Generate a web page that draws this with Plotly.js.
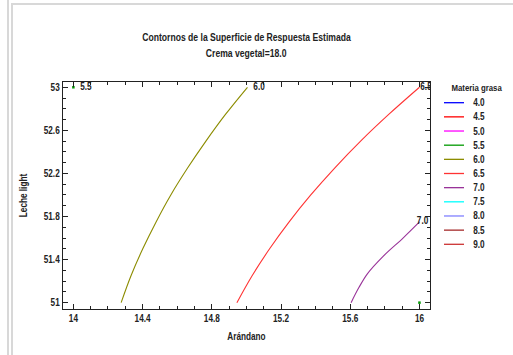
<!DOCTYPE html>
<html>
<head>
<meta charset="utf-8">
<script src="https://cdn.plot.ly/plotly-3.0.1.min.js"></script>
<style>
  html, body { margin: 0; padding: 0; background: #fff; }
  body { width: 513px; height: 355px; position: relative; overflow: hidden; }
  #frameA { position: absolute; left: 7px; top: 0; width: 2px; height: 355px; background: #d8d8d8; }
  #frameB { position: absolute; left: 11px; top: 3px; right: -2px; bottom: -2px; border-left: 2px solid #d8d8d8; border-top: 2px solid #d8d8d8; }
  #chart { position: absolute; left: 0; top: 0; width: 513px; height: 355px; }
</style>
</head>
<body>
<div id="frameA"></div>
<div id="frameB"></div>
<div id="chart"></div>
<script>
// Legend levels (Materia grasa) and their colours
const levels = ['4.0', '4.5', '5.0', '5.5', '6.0', '6.5', '7.0', '7.5', '8.0', '8.5', '9.0'];
const levelColors = ['#0000FF', '#FF0000', '#FF00FF', '#009900', '#8C8C00', '#FF3333', '#993399', '#00FFFF', '#8080FF', '#A52A2A', '#CC3333'];

// Contour lines (x = Arándano, y = Leche light)
const contour55x = [14.0, null, 16.0];
const contour55y = [53.0, null, 51.0];
const contour60x = [14.276, 14.333, 14.401, 14.478, 14.563, 14.660, 14.766, 14.880, 15.006];
const contour60y = [51.0, 51.25, 51.5, 51.75, 52.0, 52.25, 52.5, 52.75, 53.0];
const contour65x = [14.945, 15.033, 15.134, 15.247, 15.372, 15.510, 15.660, 15.824, 16.0];
const contour65y = [51.0, 51.25, 51.5, 51.75, 52.0, 52.25, 52.5, 52.75, 53.0];
const contour70x = [15.605, 15.650, 15.700, 15.790, 15.905, 16.0];
const contour70y = [51.0, 51.14, 51.27, 51.43, 51.60, 51.75];

// Contour labels (anchor positions of the level labels)
const labelText = ['5.5', '6.0', '6.5', '7.0'];
const labelX = [14.039, 15.04, 16.005, 15.985];
const labelY = [53.0, 53.0, 53.0, 51.75];

const FONT = '"Liberation Sans", Arial, sans-serif';
const INK = '#222';
const colorOf = lv => levelColors[levels.indexOf(lv)];
const f = (size) => ({ family: FONT, size: size, color: INK, weight: 'bold' });

const lineTrace = (xs, ys, lv) => ({ x: xs, y: ys, mode: 'lines', type: 'scatter', showlegend: false,
  line: { color: colorOf(lv), width: 1.1, shape: 'spline', smoothing: 1 } });

const traces = [
  { x: contour55x, y: contour55y, mode: 'markers', type: 'scatter', showlegend: false,
    marker: { color: colorOf('5.5'), size: 2.5, symbol: 'square' } },
  lineTrace(contour60x, contour60y, '6.0'),
  lineTrace(contour65x, contour65y, '6.5'),
  lineTrace(contour70x, contour70y, '7.0'),
  { x: labelX, y: labelY, text: labelText, mode: 'text', type: 'scatter', showlegend: false,
    textposition: 'middle right', cliponaxis: true, textfont: f(10) }
];

// Manual legend built from the level arrays (paper coordinates)
const L = 63, R = 430, T = 82, B = 309;
const px = v => (v - L) / (R - L);
const py = v => (B - v) / (B - T);
const shapes = [];
const annotations = [];
levels.forEach((lv, i) => {
  const yy = 102.7 + i * 14.16;
  shapes.push({ type: 'line', xref: 'paper', yref: 'paper', x0: px(444), x1: px(464), y0: py(yy), y1: py(yy),
    line: { color: levelColors[i], width: 1.3 } });
  annotations.push({ xref: 'paper', yref: 'paper', x: px(470), y: py(yy), xanchor: 'left', yanchor: 'middle',
    text: lv, showarrow: false, font: f(10) });
});
annotations.push({ xref: 'paper', yref: 'paper', x: px(477), y: py(87.5), xanchor: 'center', yanchor: 'middle',
  text: 'Materia grasa', showarrow: false, font: f(9.5) });
// second title line
annotations.push({ xref: 'paper', yref: 'paper', x: 0.5, y: py(53), xanchor: 'center', yanchor: 'middle',
  text: 'Crema vegetal=18.0', showarrow: false, font: f(10.5) });

const axisCommon = {
  showgrid: false, zeroline: false, showline: true, linecolor: INK, linewidth: 1.3, mirror: 'ticks',
  ticks: 'inside', ticklen: 5, tickwidth: 1, tickcolor: INK,
  tickfont: f(10),
  minor: { ticks: 'inside', ticklen: 3, tickcolor: INK, dtick: 0.1 }
};

const layout = {
  width: 513, height: 355,
  margin: { l: 63, r: 83, t: 82, b: 46 },
  paper_bgcolor: 'rgba(0,0,0,0)', plot_bgcolor: '#fff',
  showlegend: false,
  title: { text: 'Contornos de la Superficie de Respuesta Estimada',
    x: 0.5, xref: 'paper', xanchor: 'center', y: 1 - 37 / 355, yref: 'container', yanchor: 'middle',
    font: f(10.5) },
  xaxis: Object.assign({}, axisCommon, {
    range: [13.94, 16.061], tickvals: [14, 14.4, 14.8, 15.2, 15.6, 16], ticktext: ['14', '14.4', '14.8', '15.2', '15.6', '16'],
    title: { text: 'Arándano', standoff: 9, font: f(10) }
  }),
  yaxis: Object.assign({}, axisCommon, {
    range: [50.941, 53.049], tickvals: [51, 51.4, 51.8, 52.2, 52.6, 53], ticktext: ['51', '51.4', '51.8', '52.2', '52.6', '53'],
    title: { text: 'Leche light', standoff: 10, font: f(10) }
  }),
  shapes: shapes,
  annotations: annotations
};

Plotly.newPlot('chart', traces, layout, { displayModeBar: false, staticPlot: true }).then(gd => {
  // narrow the bold sans text to match the condensed face of the original
  gd.querySelectorAll('svg text').forEach(t => {
    const lines = t.querySelectorAll('tspan.line');
    const targets = lines.length ? Array.from(lines) : [t];
    targets.forEach(el => {
      const w = el.getComputedTextLength();
      if (w > 0) {
        el.setAttribute('textLength', (w * 0.82).toFixed(2));
        el.setAttribute('lengthAdjust', 'spacingAndGlyphs');
      }
    });
  });
});
</script>
</body>
</html>
